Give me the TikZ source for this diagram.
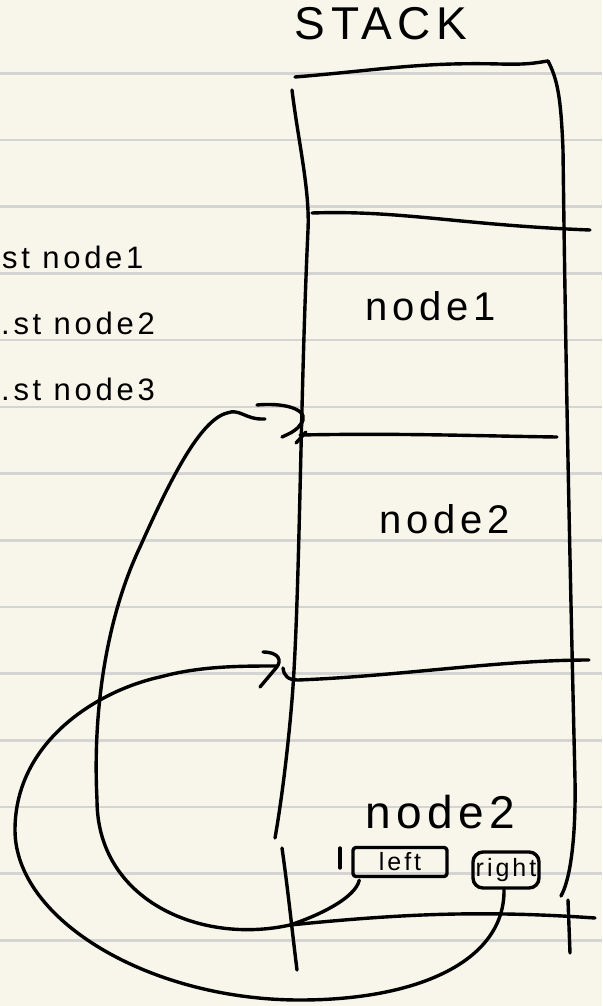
\documentclass[tikz,border=0pt]{standalone}
\usepackage{fontspec}
\usepackage{tikz}
\usetikzlibrary{positioning,arrows.meta}
\usepackage{xcolor}
\newfontfamily\handfont[LetterSpace=12]{Liberation Sans}
\definecolor{paper}{RGB}{248,246,234}
\definecolor{ruling}{RGB}{212,212,210}

\begin{document}
\begin{tikzpicture}[x=1pt,y=-1pt,node distance=2cm]
    \tikzstyle{ink} = [draw=black, line width=3.4pt, line cap=round, line join=round]
    \tikzstyle{title} = [font=\fontsize{46}{50}\selectfont\handfont, inner sep=0pt]
    \tikzstyle{cell} = [font=\fontsize{40}{44}\selectfont\handfont, inner sep=0pt]
    \tikzstyle{note} = [font=\fontsize{31}{34}\selectfont\handfont, inner sep=0pt, anchor=west]
    \tikzstyle{field} = [ink, font=\fontsize{25}{27}\selectfont\handfont,
    inner sep=2pt, minimum height=29pt]

    % Define paper
    \fill[paper] (0,0) rectangle (602,1006);
    \useasboundingbox (0,0) rectangle (602,1006);
    \foreach \k in {0,...,13}
      \draw[ruling, line width=2.6pt] (0,73.3+66.7*\k) -- (602,73.3+66.7*\k);

    % Define stack
    \node[title] (stack) at (381,24) {STACK};
    \draw[ink] (295,77) .. controls (380,70) and (420,62) .. (500,64)
      .. controls (530,65) and (540,62) .. (548,61);
    \draw[ink] (292,90) .. controls (298,140) and (310,190) .. (308,230)
      .. controls (300,400) and (300,600) .. (292,700)
      .. controls (287,760) and (280,810) .. (275,838);
    \draw[ink] (548,61) .. controls (558,80) and (561,100) .. (563,150)
      .. controls (566,400) and (572,650) .. (575,780)
      .. controls (576,840) and (570,880) .. (561,896);
    \draw[ink] (312,213) .. controls (400,210) and (460,225) .. (590,230);
    \draw[ink] (300,435) .. controls (400,433) and (480,436) .. (557,437);
    \draw[ink] (283,668) .. controls (284,676) and (288,680) .. (298,680)
      .. controls (400,676) and (500,660) .. (589,660);
    \draw[ink] (568,900) -- (570,953);

    % Define cells
    \node[cell] (node1) at (431,306) {node1};
    \node[cell] (node2) at (445,519) {node2};
    \node[cell, font=\fontsize{46}{50}\selectfont\handfont] (last) at (440,812) {node2};

    % Define notes
    \node[note] (n1) at (2,257) {st node1};
    \node[note] (n2) at (1,323) {.st node2};
    \node[note] (n3) at (1,389) {.st node3};

    % Define fields
    \node[field, rounded corners=3pt, minimum width=94pt] (left) at (400,862) {left};
    \draw[ink] (340,848) -- (340,868);
    \node[field, rounded corners=10pt, minimum width=66pt, minimum height=36pt] (right) at (506,870) {right};

    % Define links
    \coordinate (joint) at (290,925);
    \coordinate (tipa) at (265,419);
    \coordinate (tipb) at (277,666);
    \draw[ink] (joint) .. controls (400,914) and (480,910) .. (595,918);
    \draw[ink] (282,848) .. controls (288,890) and (292,930) .. (297,970);
    \draw[ink] (left.south west) ++(8,2) .. controls (355,898) and (320,915) .. (joint)
      .. controls (200,945) and (97,900) .. (97,800)
      .. controls (92,700) and (110,610) .. (140,547)
      .. controls (170,480) and (200,420) .. (227,413)
      .. controls (240,408) and (245,420) .. (tipa);
    \draw[ink] (257,405) .. controls (290,402) and (312,412) .. (300,425)
      .. controls (295,432) and (288,434) .. (282,437);
    \draw[ink] (296,443) -- (306,432);
    \draw[ink] (right.south) ++(-2,0) .. controls (505,960) and (420,1000) .. (300,1000)
      .. controls (150,1000) and (15,920) .. (15,830)
      .. controls (15,740) and (100,690) .. (160,677)
      .. controls (200,666) and (240,666) .. (tipb);
    \draw[ink] (263,652) .. controls (278,652) and (283,660) .. (276,668) -- (260,687);
  \end{tikzpicture}
\end{document}
